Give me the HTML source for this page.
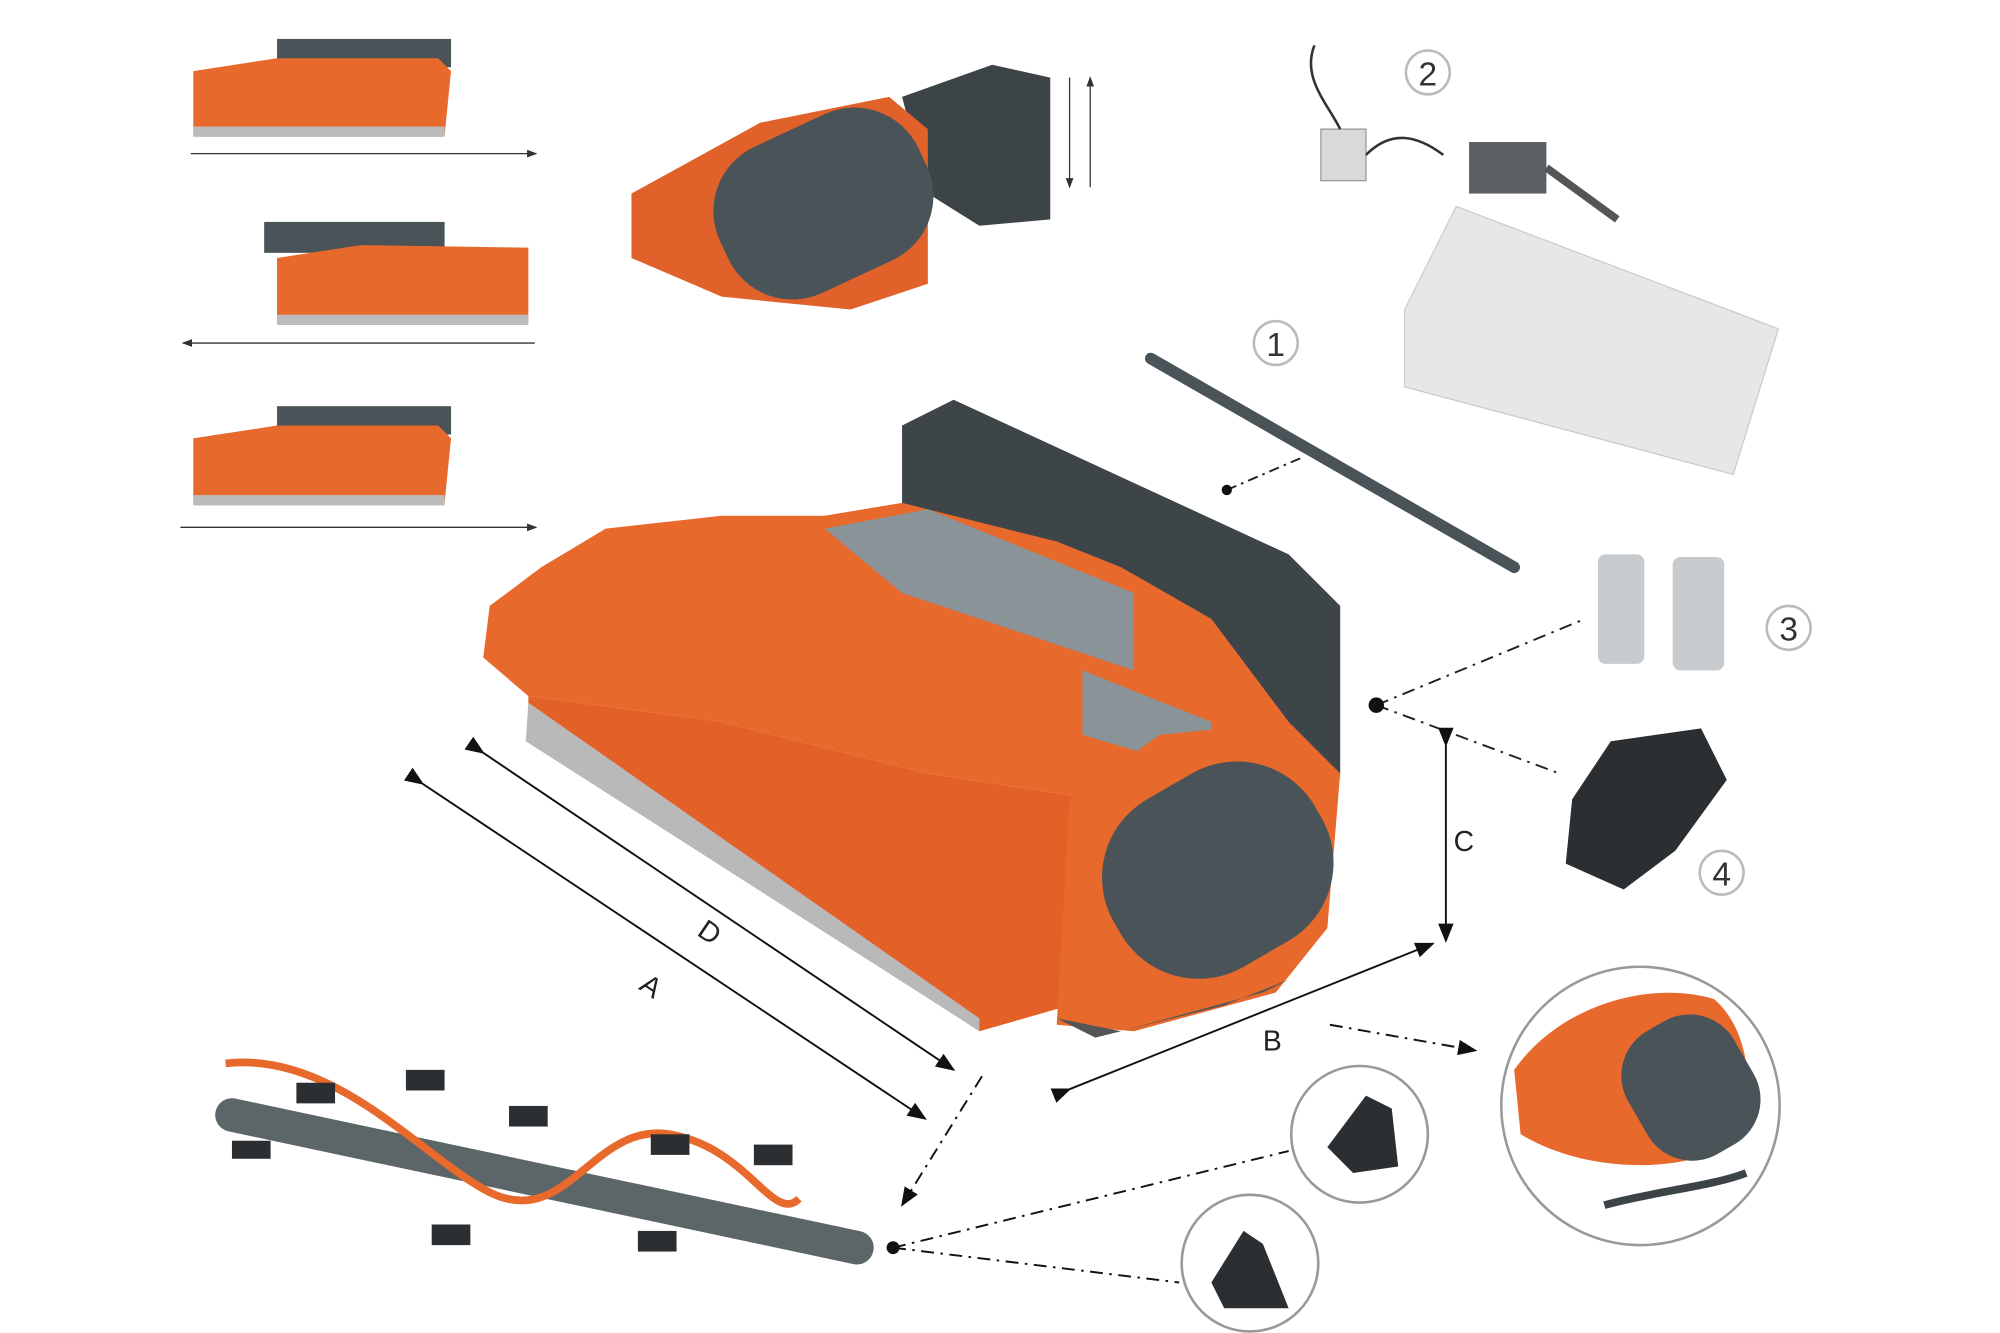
<!DOCTYPE html>
<html><head><style>html,body{margin:0;padding:0;background:#fff;}svg{display:block}</style></head>
<body>
<svg width="2000" height="1333" viewBox="0 0 1552 1034" xmlns="http://www.w3.org/2000/svg" font-family="Liberation Sans, sans-serif">
<defs>
<marker id="ar" markerWidth="10" markerHeight="10" refX="9" refY="5" orient="auto"><path d="M0,1 L10,5 L0,9 Z" fill="#111"/></marker>
<marker id="as" markerWidth="8" markerHeight="8" refX="7" refY="4" orient="auto"><path d="M0,1 L8,4 L0,7 Z" fill="#333"/></marker>
</defs>
<rect width="1552" height="1034" fill="#fff"/>

<!-- small mowers left -->
<g>
<rect x="215" y="30" width="135" height="22" fill="#4a5358"/>
<polygon points="150,55 215,45 340,45 350,55 345,105 150,105" fill="#e8692c"/>
<rect x="150" y="98" width="195" height="8" fill="#bbb"/>
<line x1="148" y1="119" x2="416" y2="119" stroke="#333" marker-end="url(#as)"/>
<rect x="205" y="172" width="140" height="24" fill="#4a5358"/>
<polygon points="215,200 280,190 410,192 410,248 215,248" fill="#e8692c"/>
<rect x="215" y="244" width="195" height="8" fill="#bbb"/>
<line x1="415" y1="266" x2="142" y2="266" stroke="#333" marker-end="url(#as)"/>
<rect x="215" y="315" width="135" height="22" fill="#4a5358"/>
<polygon points="150,340 215,330 340,330 350,340 345,390 150,390" fill="#e8692c"/>
<rect x="150" y="384" width="195" height="8" fill="#bbb"/>
<line x1="140" y1="409" x2="416" y2="409" stroke="#333" marker-end="url(#as)"/>
</g>

<!-- top middle mower -->
<g>
<polygon points="700,75 770,50 815,60 815,170 760,175 720,150" fill="#3c4448"/>
<polygon points="490,150 590,95 690,75 720,100 720,220 660,240 560,230 490,200" fill="#e0622a"/>
<rect x="555" y="95" width="170" height="125" rx="55" transform="rotate(-25 640 160)" fill="#4a5358"/>
<line x1="830" y1="60" x2="830" y2="145" stroke="#333" marker-end="url(#as)"/>
<line x1="846" y1="145" x2="846" y2="60" stroke="#333" marker-end="url(#as)"/>
</g>

<!-- top right parts -->
<g>
<polygon points="1090,240 1130,160 1380,255 1345,368 1090,300" fill="#e6e8e8" stroke="#ccc"/>
<rect x="1025" y="100" width="35" height="40" fill="#d7d9da" stroke="#999"/>
<rect x="1140" y="110" width="60" height="40" fill="#5a6064"/>
<line x1="1200" y1="130" x2="1255" y2="170" stroke="#555" stroke-width="6"/>
<path d="M1020,35 C1010,60 1030,80 1040,100 M1060,120 C1080,100 1100,105 1120,120" stroke="#333" fill="none" stroke-width="2"/>
<circle cx="1108" cy="56" r="17" fill="#fff" stroke="#bbb" stroke-width="2"/><text x="1108" y="66" font-size="26" text-anchor="middle" fill="#333">2</text>
</g>

<!-- rod 1 -->
<line x1="893" y1="278" x2="1175" y2="440" stroke="#4a5358" stroke-width="9" stroke-linecap="round"/>
<circle cx="990" cy="266" r="17" fill="#fff" stroke="#bbb" stroke-width="2"/><text x="990" y="276" font-size="26" text-anchor="middle" fill="#333">1</text>
<line x1="952" y1="380" x2="1010" y2="355" stroke="#222" stroke-width="1.5" stroke-dasharray="8,4,2,4"/><circle cx="952" cy="380" r="4" fill="#111"/>

<!-- couplings 3 -->
<rect x="1240" y="430" width="36" height="85" rx="6" fill="#c8cbcd"/>
<rect x="1298" y="432" width="40" height="88" rx="6" fill="#c8cbcd"/>
<circle cx="1388" cy="487" r="17" fill="#fff" stroke="#bbb" stroke-width="2"/><text x="1388" y="497" font-size="26" text-anchor="middle" fill="#333">3</text>
<!-- motor 4 -->
<polygon points="1220,620 1250,575 1320,565 1340,605 1300,660 1260,690 1215,670" fill="#2b2f31"/>
<circle cx="1336" cy="677" r="17" fill="#fff" stroke="#bbb" stroke-width="2"/><text x="1336" y="687" font-size="26" text-anchor="middle" fill="#333">4</text>
<g stroke="#222" stroke-width="1.5" stroke-dasharray="10,5,2,5" fill="none">
<line x1="1068" y1="547" x2="1230" y2="480"/>
<line x1="1068" y1="547" x2="1210" y2="600"/>
</g>
<circle cx="1068" cy="547" r="6" fill="#111"/>

<!-- main mower -->
<g>
<polygon points="700,330 740,310 1000,430 1040,470 1040,600 1000,610 700,420" fill="#3d4549"/>
<polygon points="380,470 420,440 470,410 560,400 640,400 700,390 820,420 870,440 940,480 1000,560 1010,600 980,620 850,620 720,600 560,560 410,540 375,510" fill="#e8692c"/>
<polygon points="410,540 560,560 720,600 850,620 830,780 760,800 410,570" fill="#e36126"/>
<polygon points="640,410 720,395 880,460 880,520 700,460" fill="#8a9498"/>
<polygon points="840,520 940,560 940,600 840,570" fill="#8a9498"/>
<polygon points="410,545 760,790 760,800 408,575" fill="#b9b9b9"/>
<polygon points="830,620 900,570 1000,560 1040,600 1030,720 990,770 880,800 820,795" fill="#e8692c"/>
<rect x="855" y="600" width="180" height="150" rx="70" transform="rotate(-30 945 675)" fill="#4a5358"/>
<polygon points="820,790 870,800 980,770 1000,760 950,780 850,805" fill="#555"/>
</g>

<!-- dimension lines -->
<g stroke="#111" stroke-width="1.5">
<line x1="375" y1="584" x2="740" y2="830" marker-end="url(#ar)" marker-start="url(#ar)"/>
<line x1="328" y1="608" x2="718" y2="868" marker-end="url(#ar)" marker-start="url(#ar)"/>
<line x1="830" y1="845" x2="1112" y2="732" marker-end="url(#ar)" marker-start="url(#ar)"/>
<line x1="1122" y1="578" x2="1122" y2="730" marker-end="url(#ar)" marker-start="url(#ar)"/>
</g>
<text x="540" y="725" font-size="22" fill="#222" transform="rotate(34 540 725)">D</text>
<text x="495" y="767" font-size="22" fill="#222" transform="rotate(34 495 767)">A</text>
<text x="980" y="815" font-size="22" fill="#222">B</text>
<text x="1128" y="660" font-size="22" fill="#222">C</text>

<g stroke="#111" stroke-width="1.5" stroke-dasharray="10,5,2,5" fill="none">
<line x1="1032" y1="795" x2="1145" y2="815" marker-end="url(#ar)"/>
<line x1="762" y1="835" x2="700" y2="935" marker-end="url(#ar)"/>
<line x1="693" y1="968" x2="1000" y2="893"/>
<line x1="693" y1="968" x2="915" y2="995"/>
</g>
<circle cx="693" cy="968" r="5" fill="#111"/>

<!-- rotor -->
<g>
<line x1="180" y1="865" x2="665" y2="968" stroke="#5c6568" stroke-width="26" stroke-linecap="round"/>
<path d="M175,825 C260,815 330,900 380,925 C440,955 460,870 520,880 C580,890 600,950 620,930" stroke="#e8692c" stroke-width="6" fill="none"/>
<g fill="#2b2f31">
<rect x="230" y="840" width="30" height="16"/><rect x="315" y="830" width="30" height="16"/><rect x="395" y="858" width="30" height="16"/>
<rect x="505" y="880" width="30" height="16"/><rect x="585" y="888" width="30" height="16"/><rect x="335" y="950" width="30" height="16"/>
<rect x="495" y="955" width="30" height="16"/><rect x="180" y="885" width="30" height="14"/>
</g>
</g>

<!-- blade circles -->
<circle cx="1055" cy="880" r="53" fill="#fff" stroke="#999" stroke-width="2"/>
<polygon points="1030,890 1060,850 1080,860 1085,905 1050,910" fill="#2b2f31"/>
<circle cx="970" cy="980" r="53" fill="#fff" stroke="#999" stroke-width="2"/>
<polygon points="940,995 965,955 980,965 1000,1015 950,1015" fill="#2b2f31"/>
<circle cx="1273" cy="858" r="108" fill="#fff" stroke="#999" stroke-width="2"/>
<path d="M1175,830 C1210,780 1280,760 1330,775 C1360,800 1365,860 1340,890 C1300,910 1230,910 1180,880 Z" fill="#e8692c"/>
<rect x="1265" y="790" width="95" height="110" rx="40" transform="rotate(-30 1310 845)" fill="#4a5358"/>
<path d="M1245,935 C1280,925 1330,920 1355,910" stroke="#3c4448" stroke-width="6" fill="none"/>
</svg>
</body></html>
